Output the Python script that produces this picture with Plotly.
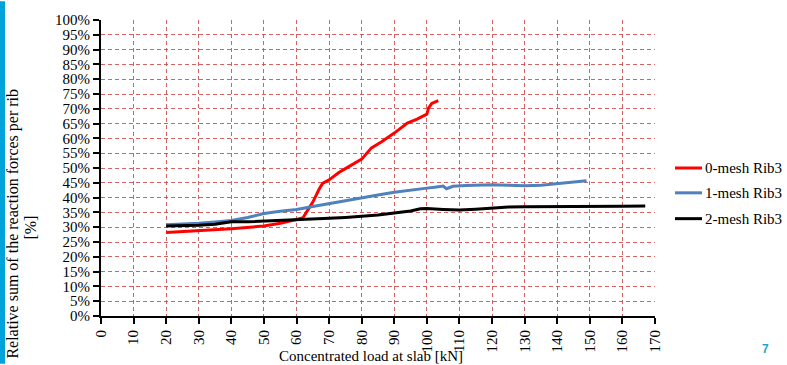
import plotly.graph_objects as go

# Data
red_x = [20, 30, 40, 50, 55, 60, 62, 63, 65, 67, 68, 70, 73, 75, 80, 83, 86, 90, 94, 97, 100, 100.5, 101.5, 103.5]
red_y = [28.2, 28.8, 29.5, 30.4, 31.3, 32.6, 33.2, 35.0, 38.5, 43.0, 44.8, 46.0, 48.5, 49.8, 53.0, 56.8, 58.8, 61.8, 65.2, 66.5, 68.2, 70.2, 71.8, 72.8]

blue_x = [20, 25, 30, 35, 40, 45, 50, 55, 60, 65, 70, 75, 80, 85, 90, 95, 100, 103, 105, 106, 108, 112, 116, 120, 125, 130, 135, 140, 145, 149]
blue_y = [30.8, 31.0, 31.3, 31.8, 32.3, 33.3, 34.6, 35.4, 36.0, 37.0, 38.0, 39.0, 40.1, 40.9, 41.8, 42.6, 43.2, 43.6, 43.9, 43.0, 43.8, 44.1, 44.3, 44.3, 44.2, 44.0, 44.2, 44.8, 45.2, 45.7]

black_x = [20, 25, 30, 35, 40, 45, 50, 55, 60, 65, 70, 75, 80, 85, 90, 95, 98, 100, 105, 110, 115, 120, 125, 130, 135, 140, 145, 150, 155, 160, 167]
black_y = [30.4, 30.5, 30.7, 31.0, 31.8, 31.8, 32.0, 32.2, 32.5, 32.8, 33.0, 33.3, 33.7, 34.1, 34.8, 35.5, 36.2, 36.3, 36.0, 35.8, 36.1, 36.5, 36.8, 36.9, 36.9, 37.0, 37.0, 37.0, 37.1, 37.1, 37.2]

series_names = ["0-mesh Rib3", "1-mesh Rib3", "2-mesh Rib3"]
series_colors = ["#FF0000", "#4F81BD", "#000000"]

x_ticks = list(range(0, 171, 10))
y_ticks = [v / 100 for v in range(0, 101, 5)]

FONT = "Liberation Serif, Times New Roman, serif"
L, R, T, B = 101, 132, 19, 48
W, H = 787, 365
pw, ph = W - L - R, H - T - B


def px_x(p):
    return (p - L) / pw


def px_y(p):
    return (H - B - p) / ph


fig = go.Figure()
for xs, ys, name, col in zip([red_x, blue_x, black_x], [red_y, blue_y, black_y], series_names, series_colors):
    fig.add_trace(go.Scatter(
        x=xs, y=[v / 100 for v in ys], mode="lines", name=name,
        line=dict(color=col, width=3), showlegend=False,
    ))

grid = "rgba(205,70,70,0.85)"

annotations = [
    dict(text="Relative sum of the reaction forces per rib", xref="paper", yref="paper",
         x=px_x(13), y=px_y(224), xanchor="center", yanchor="middle", textangle=-90,
         showarrow=False, font=dict(family=FONT, size=16, color="black")),
    dict(text="[%]", xref="paper", yref="paper",
         x=px_x(31), y=px_y(228), xanchor="center", yanchor="middle", textangle=-90,
         showarrow=False, font=dict(family=FONT, size=16, color="black")),
    dict(text="Concentrated load at slab [kN]", xref="paper", yref="paper",
         x=px_x(371), y=px_y(357), xanchor="center", yanchor="middle",
         showarrow=False, font=dict(family=FONT, size=15, color="black")),
    dict(text="<b>7</b>", xref="paper", yref="paper",
         x=px_x(765), y=px_y(350), xanchor="center", yanchor="middle",
         showarrow=False, font=dict(family="Liberation Sans, Arial, sans-serif", size=12, color="#1AA7D8")),
]
shapes = [
    dict(type="rect", xref="paper", yref="paper",
         x0=px_x(0), x1=px_x(5), y0=px_y(H), y1=px_y(0),
         fillcolor="#00A3D9", line=dict(width=0), layer="above"),
]

# legend (drawn beside the plot so it does not shrink the plot area)
leg_y = [168, 193, 219]
for name, col, ly in zip(series_names, series_colors, leg_y):
    shapes.append(dict(type="line", xref="paper", yref="paper",
                       x0=px_x(675), x1=px_x(702), y0=px_y(ly), y1=px_y(ly),
                       line=dict(color=col, width=3)))
    annotations.append(dict(text=name, xref="paper", yref="paper",
                            x=px_x(703), y=px_y(ly), xanchor="left", yanchor="middle",
                            showarrow=False, font=dict(family=FONT, size=15, color="black")))

fig.update_layout(
    width=W, height=H,
    margin=dict(l=L, r=R, t=T, b=B),
    paper_bgcolor="white", plot_bgcolor="white",
    font=dict(family=FONT, size=15, color="black"),
    showlegend=False,
    xaxis=dict(range=[0, 170], tickvals=x_ticks, ticktext=[str(v) for v in x_ticks],
               tickangle=-90, showline=True, linecolor="black", linewidth=2,
               ticks="outside", tickcolor="black", ticklen=6, tickwidth=1.5,
               showgrid=True, gridcolor=grid, griddash="4px,3px", gridwidth=1,
               zeroline=False, tickfont=dict(size=15, family=FONT)),
    yaxis=dict(range=[0, 1], tickvals=y_ticks, ticktext=[f"{int(round(v*100))}%" for v in y_ticks],
               showline=True, linecolor="black", linewidth=2,
               ticks="outside", tickcolor="black", ticklen=6, tickwidth=1.5,
               showgrid=True, gridcolor=grid, griddash="4px,3px", gridwidth=1,
               zeroline=False, tickfont=dict(size=15, family=FONT)),
    annotations=annotations,
    shapes=shapes,
)

fig.write_html("out.html", config={"displayModeBar": False},
               post_script="document.body.style.margin='0px';document.body.style.overflow='hidden';")
